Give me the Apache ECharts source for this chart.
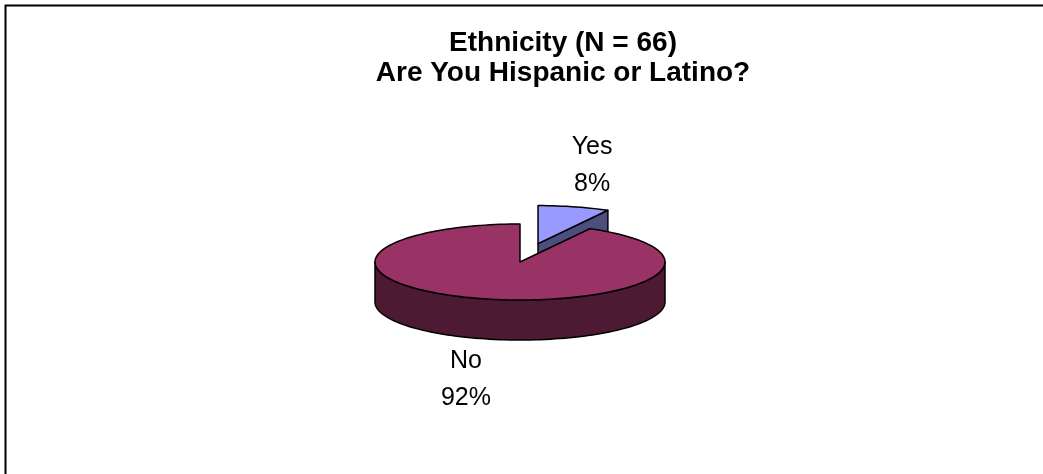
<!DOCTYPE html>
<html>
<head>
<meta charset="utf-8">
<script src="https://cdn.jsdelivr.net/npm/echarts@6/dist/echarts.min.js"></script>
<style>
  html, body { margin: 0; padding: 0; background: #ffffff; }
  #chart { width: 1043px; height: 474px; }
</style>
</head>
<body>
<div id="chart"></div>
<script>
// ---- data ----
const titleLines = ['Ethnicity (N = 66)', 'Are You Hispanic or Latino?'];
const categories = ['Yes', 'No'];
const percents = [8, 92];
const topColors = ['#9999FF', '#993366'];
const sideColors = ['#4D4D80', '#4C1A33'];
const explodeFlags = [1, 0];

// ---- layout (pixels) ----
const L = {
  cx: 520, cy: 262, rx: 145, ry: 38, depth: 40,
  explode: 0.5, labelGap: 45, labelHStretch: 1.7,
  font: '"Liberation Sans", Arial, sans-serif'
};

const total = percents.reduce((a, b) => a + b, 0);
const startAngles = [];
(function () {
  let a = 90;
  for (let i = 0; i < percents.length; i++) {
    startAngles.push(a);
    a -= percents[i] / total * 360;
  }
})();
const rad = d => d * Math.PI / 180;

function rimPt(cx, cy, deg, dy) {
  return [cx + L.rx * Math.cos(rad(deg)), cy - L.ry * Math.sin(rad(deg)) + (dy || 0)];
}
function arcPts(cx, cy, from, to, dy) {
  const pts = [];
  const n = Math.max(2, Math.ceil(Math.abs(from - to) / 2));
  for (let k = 0; k <= n; k++) {
    const d = from + (to - from) * k / n;
    pts.push(rimPt(cx, cy, d, dy));
  }
  return pts;
}

function renderItem(params, api) {
  const i = params.dataIndex;
  const val = api.value(0);
  const s = startAngles[i];
  const e = s - val / total * 360;
  const mid = (s + e) / 2;
  let cx = L.cx, cy = L.cy;
  if (explodeFlags[i]) {
    cx += L.rx * L.explode * Math.cos(rad(mid));
    cy -= L.ry * L.explode * Math.sin(rad(mid));
  }
  const stroke = { stroke: '#000', lineWidth: 1.5, lineJoin: 'round' };
  const children = [];
  const D = L.depth;

  // radial faces facing the viewer
  const faces = [];
  if (Math.cos(rad(s)) < -1e-6) faces.push(s);
  if (Math.cos(rad(e)) > 1e-6) faces.push(e);
  faces.forEach(a => {
    const p = rimPt(cx, cy, a, 0);
    children.push({
      type: 'polygon',
      shape: { points: [[cx, cy], p, [p[0], p[1] + D], [cx, cy + D]] },
      style: Object.assign({ fill: sideColors[i] }, stroke)
    });
  });

  // front rim: parts of the slice in the lower half of the ellipse
  const ranges = [];
  for (let base = 0; base >= -720; base -= 360) {
    const lo = Math.max(e, base - 180), hi = Math.min(s, base);
    if (hi > lo) ranges.push([hi, lo]);
  }
  ranges.forEach(r => {
    const top = arcPts(cx, cy, r[0], r[1], 0);
    const bot = arcPts(cx, cy, r[1], r[0], D);
    children.push({
      type: 'polygon',
      shape: { points: top.concat(bot) },
      style: Object.assign({ fill: sideColors[i] }, stroke)
    });
  });

  // top face
  children.push({
    type: 'polygon',
    shape: { points: [[cx, cy]].concat(arcPts(cx, cy, s, e, 0)) },
    style: Object.assign({ fill: topColors[i] }, stroke)
  });

  // label
  const sm = Math.sin(rad(mid)), cm = Math.cos(rad(mid));
  const anchor = rimPt(cx, cy, mid, sm < 0 ? D : 0);
  let ux = cm * L.labelHStretch, uy = -sm;
  const len = Math.hypot(ux, uy);
  ux /= len; uy /= len;
  children.push({
    type: 'text',
    style: {
      x: anchor[0] + ux * L.labelGap,
      y: anchor[1] + uy * L.labelGap,
      text: categories[i] + '\n' + Math.round(val / total * 100) + '%',
      fill: '#000',
      font: '25px ' + L.font,
      lineHeight: 37,
      align: 'center',
      verticalAlign: 'middle'
    }
  });
  return { type: 'group', children: children };
}

const chart = echarts.init(document.getElementById('chart'), null, { renderer: 'canvas' });
chart.setOption({
  backgroundColor: '#ffffff',
  animation: false,
  title: {
    text: titleLines.join('\n'),
    left: 563,
    top: 28,
    textAlign: 'center',
    padding: 0,
    textStyle: {
      fontFamily: L.font,
      fontWeight: 'bold',
      fontSize: 28,
      lineHeight: 30,
      color: '#000'
    }
  },
  graphic: [{
    type: 'rect',
    shape: { x: 5.5, y: 5.5, width: 1100, height: 600 },
    style: { fill: 'none', stroke: '#000', lineWidth: 2 },
    silent: true
  }],
  series: [{
    type: 'custom',
    coordinateSystem: 'none',
    data: percents.map((v, i) => ({ name: categories[i], value: [v] })),
    renderItem: renderItem
  }]
});
</script>
</body>
</html>
